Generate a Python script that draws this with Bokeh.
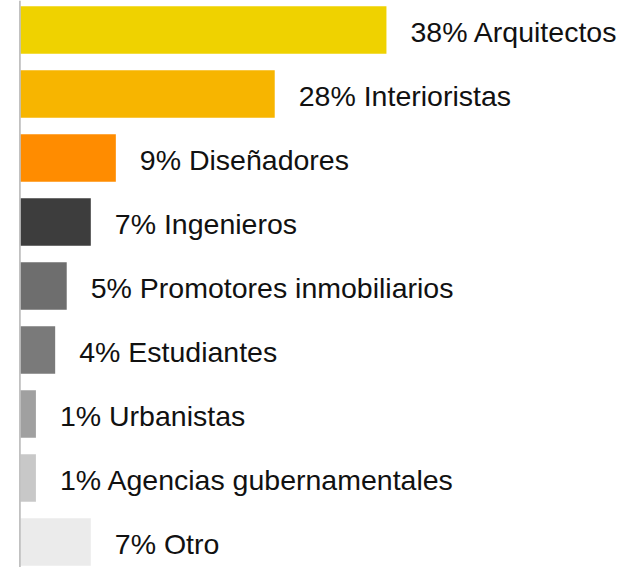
from bokeh.plotting import figure
from bokeh.models import ColumnDataSource, Range1d, Span
from bokeh.core.properties import value
from bokeh.embed import file_html
from bokeh.resources import INLINE

categories = ["Arquitectos", "Interioristas", "Diseñadores", "Ingenieros",
              "Promotores inmobiliarios", "Estudiantes", "Urbanistas",
              "Agencias gubernamentales", "Otro"]
percent_labels = ["38%", "28%", "9%", "7%", "5%", "4%", "1%", "1%", "7%"]
# bar lengths (in percent units)
bar_values = [38.0, 26.4, 9.9, 7.3, 4.8, 3.6, 1.6, 1.6, 7.3]
colors = ["#efd200", "#f7b500", "#ff8c00", "#3d3d3d", "#6e6e6e",
          "#7a7a7a", "#a0a0a0", "#c8c8c8", "#ebebeb"]

labels = [f"{p} {c}" for p, c in zip(percent_labels, categories)]
pos = list(range(len(categories)))

src = ColumnDataSource(dict(y=pos, v=bar_values, color=colors, label=labels))

W, H = 619, 567
px_per_unit_x = 9.63
x_start = -20 / px_per_unit_x
px_per_unit_y = 64.0
y_top = -29.5 / px_per_unit_y
p = figure(width=W, height=H, output_backend="svg", toolbar_location=None,
           x_range=Range1d(x_start, x_start + W / px_per_unit_x),
           y_range=Range1d(y_top + H / px_per_unit_y, y_top),
           min_border=0, min_border_left=0, min_border_right=0,
           min_border_top=0, min_border_bottom=0)
p.axis.visible = False
p.grid.visible = False
p.outline_line_color = None
p.background_fill_color = "white"
p.border_fill_color = "white"

p.hbar(y="y", left=0, right="v", height=47.5 / px_per_unit_y,
       fill_color="color", line_color=None, source=src)

p.add_layout(Span(location=-0.06, dimension="height", line_color="#b4b4b4",
                  line_width=1.5))

p.text(x="v", y="y", text="label", source=src, x_offset=24, y_offset=2,
       text_baseline="middle", text_align="left",
       text_font=value("Liberation Sans"), text_font_size="28.5px",
       text_color="#111111")

open("out.html", "w").write(file_html(p, INLINE))
